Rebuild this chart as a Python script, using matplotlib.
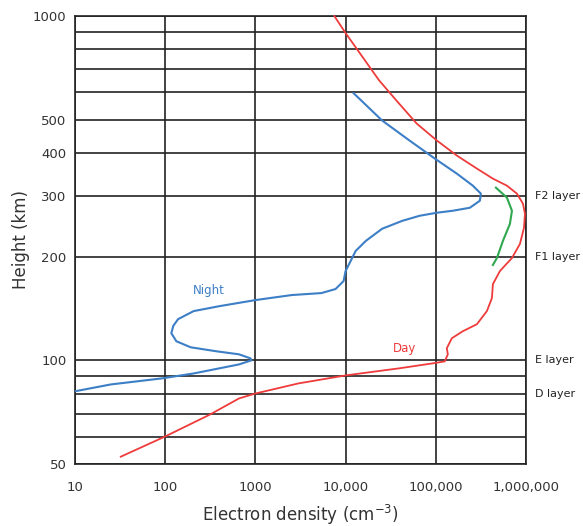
import matplotlib
matplotlib.use("Agg")
import matplotlib.pyplot as plt
from matplotlib.ticker import LogLocator, NullFormatter, FixedLocator, FixedFormatter

# Day profile (electron density cm^-3, height km)
day_density = [7500, 10000, 23490, 36460, 61160, 102600, 171100, 285500, 429900,
               615200, 794300, 926300, 974800, 950000, 857600, 698900, 514200,
               429900, 419000, 368800, 285500, 199500, 150600, 132500, 136000,
               125900, 92540, 39390, 10000, 3004, 1000, 658, 314, 98.7, 32.2]
day_height = [1000, 892, 650.7, 568.9, 487.6, 435.0, 393.3, 360.5, 337.0,
              321.5, 304.8, 285.0, 266.5, 242.6, 217.9, 198.2, 181.7,
              166.5, 151.6, 139.0, 127.3, 121.5, 115.9, 108.4, 104.1,
              99.3, 98.0, 94.8, 90.4, 85.7, 80.1, 77.5, 69.6, 60.0, 52.5]

# Night profile
night_density = [12300, 25380, 51050, 97450, 171100, 257700, 316200, 308300, 238700,
                 154500, 102600, 66100, 42580, 25380, 16780, 12950, 11380, 10000,
                 9502, 7743, 5412, 2512, 1000, 402, 207, 139, 123, 117, 133, 192,
                 373, 658, 884, 906, 658, 207, 91.3, 24.9, 10]
night_height = [596.4, 497.3, 435.0, 385.5, 348.5, 321.5, 304.8, 290.8, 277.4,
                271.9, 268.3, 262.9, 254.2, 241.0, 222.3, 207.9, 194.3, 181.7,
                169.9, 161.1, 156.8, 154.7, 149.6, 143.7, 139.0, 131.7, 125.9,
                119.9, 113.6, 109.1, 106.2, 104.1, 101.3, 100, 97.3, 91.6, 88.6,
                85.1, 81.3]

# F1/F2 split (green)
f_density = [464200, 615200, 698900, 663800, 555400, 476100, 429900]
f_height = [317.3, 296.7, 271.9, 249.1, 222.3, 198.2, 189.2]

x_ticks = [10, 100, 1000, 10000, 100000, 1000000]
x_labels = ['10', '100', '1000', '10,000', '100,000', '1,000,000']
y_ticks = [50, 100, 200, 300, 400, 500, 1000]
y_labels = ['50', '100', '200', '300', '400', '500', '1000']

layer_names = ['F2 layer', 'F1 layer', 'E layer', 'D layer']
layer_heights = [300, 200, 100, 80]

fig = plt.figure(figsize=(5.83, 5.26), dpi=100)
ax = fig.add_axes([0.1286, 0.1179, 0.7736, 0.8517])
ax.set_xscale('log')
ax.set_yscale('log')
ax.set_xlim(10, 1e6)
ax.set_ylim(50, 1000)

ax.xaxis.set_major_locator(FixedLocator(x_ticks))
ax.xaxis.set_major_formatter(FixedFormatter(x_labels))
ax.xaxis.set_minor_locator(FixedLocator([]))
ax.yaxis.set_major_locator(FixedLocator(y_ticks))
ax.yaxis.set_major_formatter(FixedFormatter(y_labels))
ax.yaxis.set_minor_locator(LogLocator(base=10, subs=range(2, 10), numticks=20))
ax.yaxis.set_minor_formatter(NullFormatter())

ax.grid(True, which='major', axis='x', color='#222222', lw=1.2)
ax.grid(True, which='both', axis='y', color='#222222', lw=1.2)
ax.tick_params(which='both', length=0, labelsize=9.5, colors='#333333')
ax.tick_params(axis='x', pad=12)
ax.tick_params(axis='y', pad=6)
for s in ax.spines.values():
    s.set_color('#222222')
    s.set_linewidth(1.2)

ax.plot(day_density, day_height, color='#ee3b3b', lw=1.3, clip_on=False,
        solid_joinstyle='round', zorder=3)
ax.plot(night_density, night_height, color='#3d7fc6', lw=1.5,
        solid_joinstyle='round', zorder=3)
ax.plot(f_density, f_height, color='#2fa84f', lw=1.5,
        solid_joinstyle='round', zorder=3)

ax.text(306, 159, 'Night', color='#3d7fc6', fontsize=8.5, ha='center', va='center')
ax.text(44850, 108.4, 'Day', color='#ee3b3b', fontsize=8.5, ha='center', va='center')

for name, h in zip(layer_names, layer_heights):
    ax.text(1.02, h, name, transform=ax.get_yaxis_transform(), fontsize=8,
            va='center', ha='left', color='#222222')

ax.set_xlabel('Electron density (cm$^{-3}$)', fontsize=12, color='#333333')
ax.set_ylabel('Height (km)', fontsize=12, color='#333333')
ax.xaxis.set_label_coords(0.5, -0.086)
ax.yaxis.set_label_coords(-0.10, 0.5)

fig.savefig('out.png', dpi=100)
